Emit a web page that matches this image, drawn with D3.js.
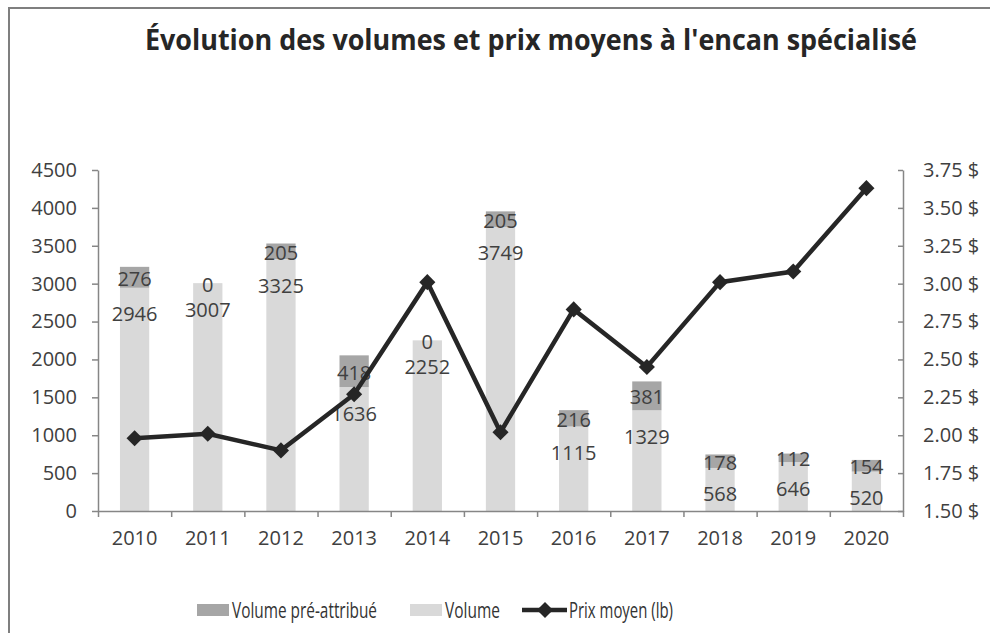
<!DOCTYPE html>
<html>
<head>
<meta charset="utf-8">
<title>Évolution des volumes et prix moyens</title>
<script src="https://cdn.jsdelivr.net/npm/d3@7"></script>
<style>
  body { margin: 0; background: #fff; }
  svg { display: block; }
  text { font-family: "Open Sans", sans-serif; fill: #404040; }
</style>
</head>
<body>
<svg id="chart" width="990" height="633"></svg>
<script>
// data
var years = ["2010","2011","2012","2013","2014","2015","2016","2017","2018","2019","2020"];
var volume = [2946, 3007, 3325, 1636, 2252, 3749, 1115, 1329, 568, 646, 520];
var preAttribue = [276, 0, 205, 418, 0, 205, 216, 381, 178, 112, 154];
var prix = [1.98, 2.01, 1.90, 2.27, 3.01, 2.02, 2.83, 2.45, 3.01, 3.08, 3.63];
var leftTicks = [0, 500, 1000, 1500, 2000, 2500, 3000, 3500, 4000, 4500];
var rightTicks = [1.50, 1.75, 2.00, 2.25, 2.50, 2.75, 3.00, 3.25, 3.50, 3.75];

var svg = d3.select("#chart");

var plotLeft = 98, plotRight = 903, plotTop = 170, plotBottom = 511;

// outer frame (left and top edges visible)
svg.append("rect").attr("x", 8).attr("y", 7).attr("width", 982).attr("height", 2).attr("fill", "#7f7f7f");
svg.append("rect").attr("x", 8).attr("y", 7).attr("width", 2).attr("height", 626).attr("fill", "#7f7f7f");

var x = d3.scaleBand().domain(years).range([plotLeft, plotRight]).paddingInner(0.6).paddingOuter(0.3);
var yL = d3.scaleLinear().domain([0, 4500]).range([plotBottom, plotTop]);
var yR = d3.scaleLinear().domain([1.5, 3.75]).range([plotBottom, plotTop]);
var xb = d3.scaleLinear().domain([0, years.length]).range([plotLeft, plotRight]);

// title
svg.append("text")
  .attr("x", 531).attr("y", 50)
  .attr("text-anchor", "middle")
  .attr("textLength", 772).attr("lengthAdjust", "spacingAndGlyphs")
  .style("font-size", "29px").style("font-weight", "bold").style("fill", "#262626")
  .text("Évolution des volumes et prix moyens à l'encan spécialisé");

// bars
var bars = svg.append("g");
years.forEach(function (yr, i) {
  bars.append("rect")
    .attr("x", x(yr)).attr("width", x.bandwidth())
    .attr("y", yL(volume[i])).attr("height", yL(0) - yL(volume[i]))
    .attr("fill", "#d9d9d9");
  bars.append("rect")
    .attr("x", x(yr)).attr("width", x.bandwidth())
    .attr("y", yL(volume[i] + preAttribue[i])).attr("height", yL(volume[i]) - yL(volume[i] + preAttribue[i]))
    .attr("fill", "#a6a6a6");
});

// axes
function styleAxis(g) {
  g.selectAll("path, line").attr("stroke", "#868686").attr("stroke-width", 1.5);
  g.selectAll("text").style("font-size", "20px").style("fill", "#404040").attr("font-family", null);
}

svg.append("g")
  .attr("transform", "translate(" + plotLeft + ",0)")
  .call(d3.axisLeft(yL).tickValues(leftTicks).tickFormat(d3.format("d"))
    .tickSize(6).tickSizeOuter(0).tickPadding(15))
  .call(styleAxis);

svg.append("g")
  .attr("transform", "translate(" + plotRight + ",0)")
  .call(d3.axisRight(yR).tickValues(rightTicks).tickSizeInner(-5).tickSizeOuter(0).tickPadding(20)
    .tickFormat(function (d) { return d3.format(".2f")(d) + " $"; }))
  .call(styleAxis);

// category boundary ticks
svg.append("g")
  .attr("transform", "translate(0," + plotBottom + ")")
  .call(d3.axisBottom(xb).tickValues(d3.range(0, years.length + 1)).tickSize(6).tickSizeOuter(0).tickFormat(""))
  .call(styleAxis);

svg.append("g")
  .attr("transform", "translate(0," + plotBottom + ")")
  .call(d3.axisBottom(x).tickSize(0).tickPadding(20))
  .call(styleAxis)
  .select(".domain").remove();

// bar labels
var labels = svg.append("g").style("font-size", "20px");
years.forEach(function (yr, i) {
  var cx = x(yr) + x.bandwidth() / 2;
  labels.append("text")
    .attr("x", cx).attr("y", yL(volume[i]) + 26)
    .attr("text-anchor", "middle").attr("dominant-baseline", "central")
    .text(volume[i]);
  labels.append("text")
    .attr("x", cx).attr("y", (yL(volume[i]) + yL(volume[i] + preAttribue[i])) / 2 + 1)
    .attr("text-anchor", "middle").attr("dominant-baseline", "central")
    .text(preAttribue[i]);
});

// price line
var line = d3.line()
  .x(function (d, i) { return x(years[i]) + x.bandwidth() / 2; })
  .y(function (d) { return yR(d); });

svg.append("path")
  .datum(prix)
  .attr("d", line)
  .attr("fill", "none").attr("stroke", "#262626").attr("stroke-width", 4.5)
  .attr("stroke-linejoin", "miter");

var diamond = d3.symbol().type(d3.symbolSquare).size(130);
svg.append("g").selectAll("path")
  .data(prix)
  .join("path")
  .attr("d", diamond)
  .attr("transform", function (d, i) {
    return "translate(" + (x(years[i]) + x.bandwidth() / 2) + "," + yR(d) + ") rotate(45)";
  })
  .attr("fill", "#262626");

// legend
var lg = svg.append("g").style("font-size", "21px");
lg.append("rect").attr("x", 197).attr("y", 604).attr("width", 32).attr("height", 12).attr("fill", "#a6a6a6");
lg.append("text").attr("x", 232).attr("y", 610).attr("dominant-baseline", "central").style("fill", "#333")
  .attr("textLength", 145).attr("lengthAdjust", "spacingAndGlyphs").text("Volume pré-attribué");
lg.append("rect").attr("x", 410).attr("y", 604).attr("width", 32).attr("height", 12).attr("fill", "#d9d9d9");
lg.append("text").attr("x", 445).attr("y", 610).attr("dominant-baseline", "central").style("fill", "#333")
  .attr("textLength", 55).attr("lengthAdjust", "spacingAndGlyphs").text("Volume");
lg.append("line").attr("x1", 522).attr("x2", 567).attr("y1", 610).attr("y2", 610)
  .attr("stroke", "#262626").attr("stroke-width", 4.5);
lg.append("path").attr("d", diamond).attr("transform", "translate(545,610) rotate(45)").attr("fill", "#262626");
lg.append("text").attr("x", 569).attr("y", 610).attr("dominant-baseline", "central").style("fill", "#333")
  .attr("textLength", 104).attr("lengthAdjust", "spacingAndGlyphs").text("Prix moyen (lb)");
</script>
</body>
</html>
